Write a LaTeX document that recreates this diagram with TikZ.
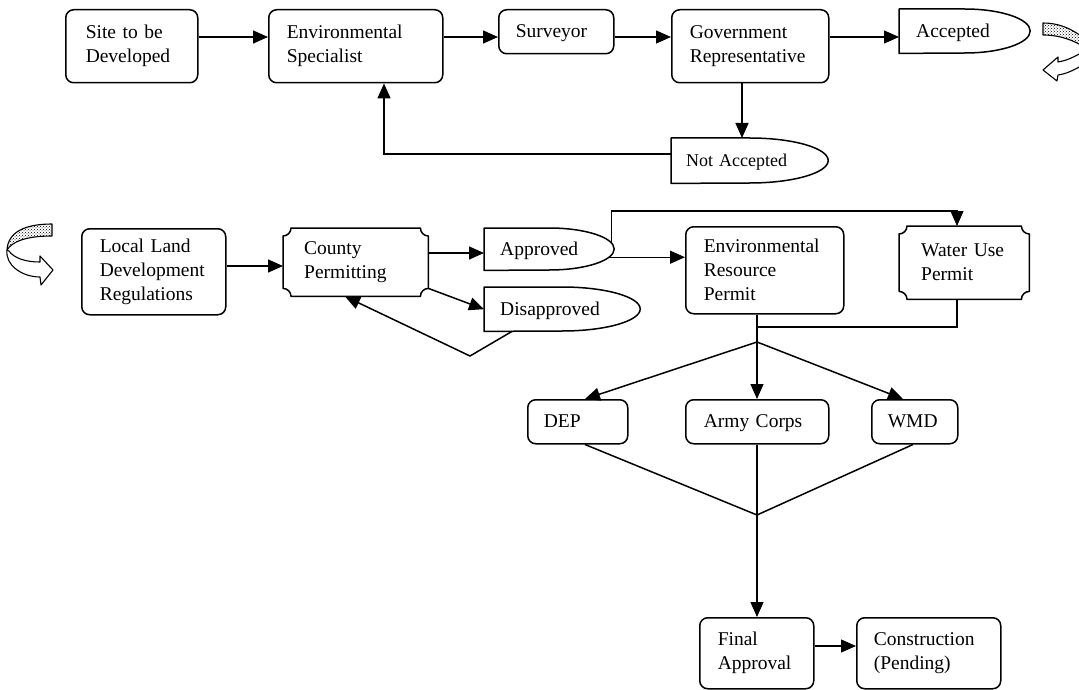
\documentclass[tikz,border=0pt]{standalone}
\usepackage{fontspec}
\setmainfont{Liberation Serif}
\usetikzlibrary{arrows.meta,patterns}
\newcommand\diagfont{\fontsize{19.5}{24}\selectfont}
\newcommand\nafont{\fontsize{18}{22}\selectfont}
\newcommand\delayoutline[3]{\draw[bline] (#1.north west) -- (#1.north) arc[start angle=90,end angle=-90,x radius=#2pt,y radius=#3pt] -- (#1.south west) -- cycle;}
\newcommand\plaqueoutline[1]{\draw[bline] ([xshift=8pt]#1.north west) -- ([xshift=-8pt]#1.north east) arc[start angle=180,end angle=270,radius=8pt] -- ([yshift=8pt]#1.south east) arc[start angle=90,end angle=180,radius=8pt] -- ([xshift=8pt]#1.south west) arc[start angle=0,end angle=90,radius=8pt] -- ([yshift=-8pt]#1.north west) arc[start angle=270,end angle=360,radius=8pt] -- cycle;}
\begin{document}
\begin{tikzpicture}[x=1pt,y=-1pt,
  rbox/.style={draw, rounded corners=8pt, line width=1.5pt, anchor=north west, align=left, inner ysep=0pt, font=\diagfont},
  pbox/.style={anchor=north west, align=left, inner ysep=0pt, font=\diagfont},
  oneline/.style={text height=15pt, text depth=3pt},
  bline/.style={line width=1.5pt, line join=round},
  ln/.style={line width=1.5pt},
  thin/.style={line width=1.1pt},
  arr/.style={line width=1.5pt, -{Triangle[length=15pt,width=13pt]}},
  curl/.style={line width=1.1pt, line join=round}]
\useasboundingbox (0,0) rectangle (1079,690);
\fill[white] (0,0) rectangle (1079,690);

% ---------- top row ----------
\node[rbox, text width=92pt, inner xsep=20pt, minimum height=73pt] (site) at (65,9) {Site to be\\Developed};
\node[rbox, text width=138pt, inner xsep=18pt, minimum height=73pt] (env) at (268,9) {Environmental\\Specialist};
\node[rbox, oneline, text width=81pt, inner xsep=17pt, minimum height=44pt] (sur) at (498,9) {Surveyor};
\node[rbox, text width=121pt, inner xsep=18pt, minimum height=73pt] (gov) at (671,9) {Government\\Representative};
\node[pbox, oneline, text width=97pt, inner xsep=17pt, minimum height=44pt] (acc) at (899,9) {Accepted};
\delayoutline{acc}{65.5}{22}
\node[pbox, oneline, font=\nafont, text width=127pt, inner xsep=15pt, minimum height=45pt] (nacc) at (671,138) {Not Accepted};
\delayoutline{nacc}{78.5}{22.5}

\coordinate (ya) at (0,37);
\coordinate (xg) at (742,0);
\coordinate (yn) at (0,154);
\coordinate (xe) at (384,0);
\draw[arr] (site.east |- ya) -- (env.west |- ya);
\draw[arr] (env.east |- ya) -- (sur.west |- ya);
\draw[arr, thin] (sur.east |- ya) -- (gov.west |- ya);
\draw[arr, thin] (gov.east |- ya) -- (acc.west |- ya);
\draw[arr] (xg |- gov.south) -- (xg |- nacc.north);
\draw[arr] (nacc.west |- yn) -| (xe |- env.south);

% top-right curl (cut by the edge)
\draw[curl, pattern=crosshatch dots] (1043,23) .. controls (1058,23) and (1070,28) .. (1081,36) -- (1081,45) .. controls (1068,38) and (1056,35) .. (1043,35) -- cycle;
\draw[curl, fill=white] (1081,53) .. controls (1072,58) and (1065,61) .. (1058,62) -- (1058,57) -- (1043,70) -- (1057,81) -- (1058,75) .. controls (1066,74) and (1074,70) .. (1081,66);

% ---------- lower part ----------
% left curl
\draw[curl, pattern=crosshatch dots] (52,224) .. controls (25,224) and (8,232) .. (7,250) .. controls (12,242) and (25,236) .. (52,236) -- cycle;
\draw[curl, fill=white] (7,250) .. controls (5,265) and (22,277) .. (40,277) -- (41,285) -- (53,270) -- (40,256) -- (40,262) .. controls (25,262) and (14,258) .. (9,251) -- cycle;

\node[rbox, text width=108pt, inner xsep=18pt, minimum height=86pt] (local) at (81,228) {Local Land\\Development\\Regulations};
\node[pbox, text width=103pt, inner xsep=21pt, minimum height=68pt] (county) at (283,228) {County\\Permitting};
\plaqueoutline{county}
\node[pbox, oneline, text width=98pt, inner xsep=16pt, minimum height=42pt] (appr) at (484,228) {Approved};
\delayoutline{appr}{65}{21}
\node[pbox, oneline, text width=124pt, inner xsep=16pt, minimum height=44pt] (disap) at (484,287) {Disapproved};
\delayoutline{disap}{78}{22}
\node[rbox, text width=122pt, inner xsep=18pt, minimum height=87pt] (erp) at (685,226) {Environmental\\Resource\\Permit};
\node[pbox, text width=86pt, inner xsep=22pt, minimum height=73pt] (wup) at (899,226) {Water Use\\Permit};
\plaqueoutline{wup}
\node[rbox, oneline, text width=68pt, inner xsep=16pt, minimum height=44pt] (dep) at (527,399) {DEP};
\node[rbox, oneline, text width=107pt, inner xsep=18pt, minimum height=44pt] (ac) at (685,399) {Army Corps};
\node[rbox, oneline, text width=54pt, inner xsep=16pt, minimum height=44pt] (wmd) at (871,399) {WMD};
\node[rbox, text width=78pt, inner xsep=18pt, minimum height=71pt] (final) at (699,617) {Final\\Approval};
\node[rbox, text width=110pt, inner xsep=17pt, minimum height=71pt] (cons) at (856,617) {Construction\\(Pending)};

\coordinate (yl) at (0,266);
\coordinate (yc) at (0,253);
\coordinate (dv) at (470,356);
\coordinate (xcs) at (345,0);
\coordinate (yt) at (0,211);
\coordinate (xw) at (957,0);
\coordinate (xm) at (757,0);
\coordinate (yb) at (0,327);
\coordinate (apex) at (757,342);
\coordinate (vb) at (757,515);
\coordinate (yf) at (0,646);

\draw[arr] (local.east |- yl) -- (county.west |- yl);
\draw[arr] (county.east |- yc) -- (appr.west |- yc);
\draw[arr] ([yshift=8pt]county.south east) -- (disap.west);
\draw[arr] ([xshift=28pt]disap.south west) -- (dv) -- (xcs |- county.south);
\draw[arr, thin] ([xshift=59pt,yshift=-8pt]appr.center) coordinate (aa) -- (erp.west |- aa);
\draw[arr, thin] ([xshift=62pt,yshift=7pt]appr.center) |- (xw |- yt) -- (xw |- wup.north);
\draw[thin] (xm |- erp.south) -- (apex);
\draw[thin] (xm |- yb) -| (xw |- wup.south);
\draw[arr] (apex) -- ([xshift=58pt]dep.north west);
\draw[arr, thin] (apex) -- (xm |- ac.north);
\draw[arr] (apex) -- ([xshift=32pt]wmd.north west);
\draw[ln] ([xshift=58pt]dep.south west) -- (vb);
\draw[thin] (xm |- ac.south) -- (vb);
\draw[ln] ([xshift=42pt]wmd.south west) -- (vb);
\draw[arr, thin] (vb) -- (xm |- final.north);
\draw[arr, thin] (final.east |- yf) -- (cons.west |- yf);
\end{tikzpicture}
\end{document}
